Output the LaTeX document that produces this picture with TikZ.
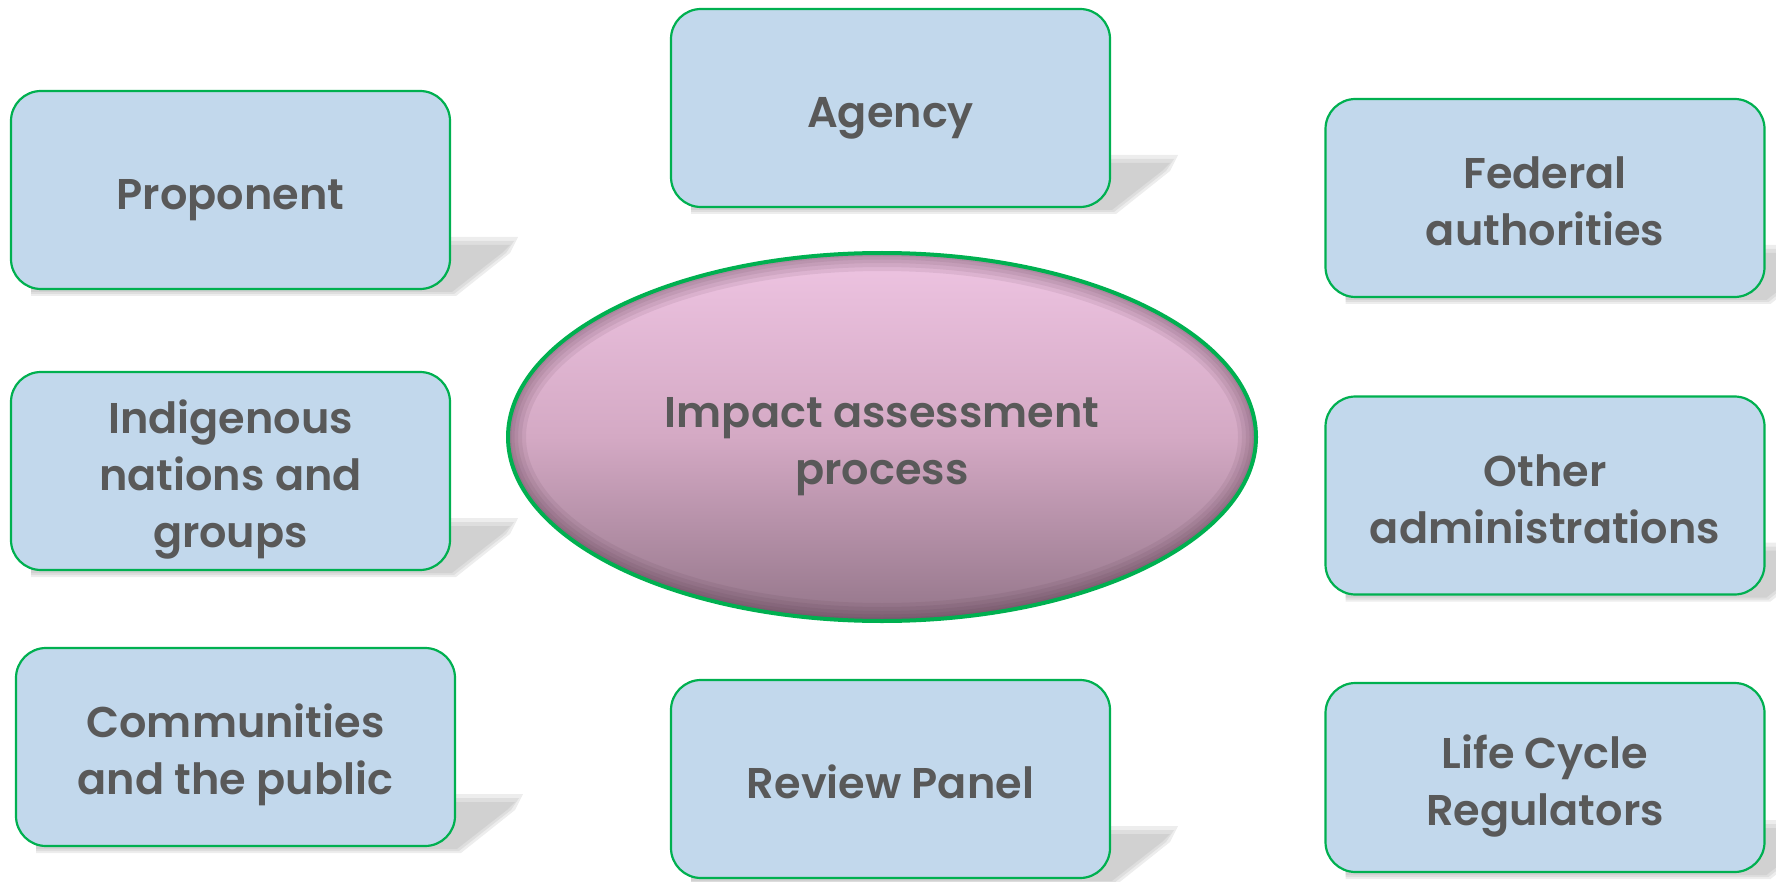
\documentclass[tikz,border=0pt]{standalone}
\usepackage{fontspec}
\setmainfont{Poppins}[BoldFont={Poppins SemiBold}]
\usetikzlibrary{shapes.geometric,backgrounds,calc}
\definecolor{boxfill}{HTML}{C2D8EC}
\definecolor{boxline}{HTML}{00B050}
\definecolor{txt}{HTML}{595959}
\definecolor{elltop}{HTML}{EEC4E2}
\definecolor{ellmid}{HTML}{D4A9C4}
\definecolor{ellbot}{HTML}{94768A}
\definecolor{rim}{HTML}{4E3042}
\definecolor{shad}{HTML}{9A9A9A}
\newcommand\lbltext[1]{\raisebox{-14pt}[0pt][0pt]{\begin{tabular}{@{}c@{}}#1\end{tabular}}}
\tikzset{
  lbl/.style={align=center, text=txt, font=\bfseries\fontsize{43}{57}\selectfont},
  ibox/.style={lbl, draw=boxline, line width=2.2pt, fill=boxfill, rounded corners=30pt,
    minimum width=439pt, minimum height=198pt, inner sep=0pt, outer sep=0pt},
  core/.style={lbl, ellipse, draw=boxline, line width=4pt, minimum width=748pt, minimum height=368pt,
    inner sep=0pt, outer sep=0pt, top color=elltop, bottom color=ellbot, middle color=ellmid},
  shadowfill/.style={fill=shad, opacity=0.18}
}
\newcommand\castshadow[1]{%
  \foreach \d in {0,4,8}{%
    \fill[shadowfill] ($(#1.south west)+(20,-52+\d)$) -- ($(#1.south east)+(68-\d,-52+\d)$)
      -- ($(#1.south east)+(60-\d,-36)$) -- ($(#1.south east)+(6-\d*0.5,7-\d*0.5)$)
      -- ($(#1.south west)+(20,7-\d*0.5)$) -- cycle;}%
}
\begin{document}
\begin{tikzpicture}[x=1pt,y=-1pt]
\useasboundingbox (0,0) rectangle (1776,882);
\node[ibox] (prop) at (230.5,190) {\lbltext{Proponent}};
\node[ibox] (agency) at (890.5,108) {\lbltext{Agency}};
\node[ibox] (fed) at (1545,198) {\lbltext{Federal\\authorities}};
\node[ibox] (indig) at (230.5,471) {\lbltext{Indigenous\\nations and\\groups}};
\node[ibox] (other) at (1545,495.5) {\lbltext{Other\\administrations}};
\node[ibox] (comm) at (235.5,747) {\lbltext{Communities\\and the public}};
\node[ibox] (review) at (890.5,779) {\lbltext{Review Panel}};
\node[ibox, minimum height=189pt] (life) at (1545,777.5) {\lbltext{Life Cycle\\Regulators}};
\node[core, path picture={
    \foreach \w in {36,28,20,13,7}{
      \draw[rim, opacity=0.09, line width=\w pt] (path picture bounding box.center) ellipse [x radius=374pt, y radius=184pt];}
  }] (iap) at (882,437) {\lbltext{Impact assessment\\process}};
\begin{scope}[on background layer]
  \foreach \n in {prop,agency,fed,indig,other,comm,review,life}{\castshadow{\n}}
\end{scope}
\end{tikzpicture}
\end{document}
